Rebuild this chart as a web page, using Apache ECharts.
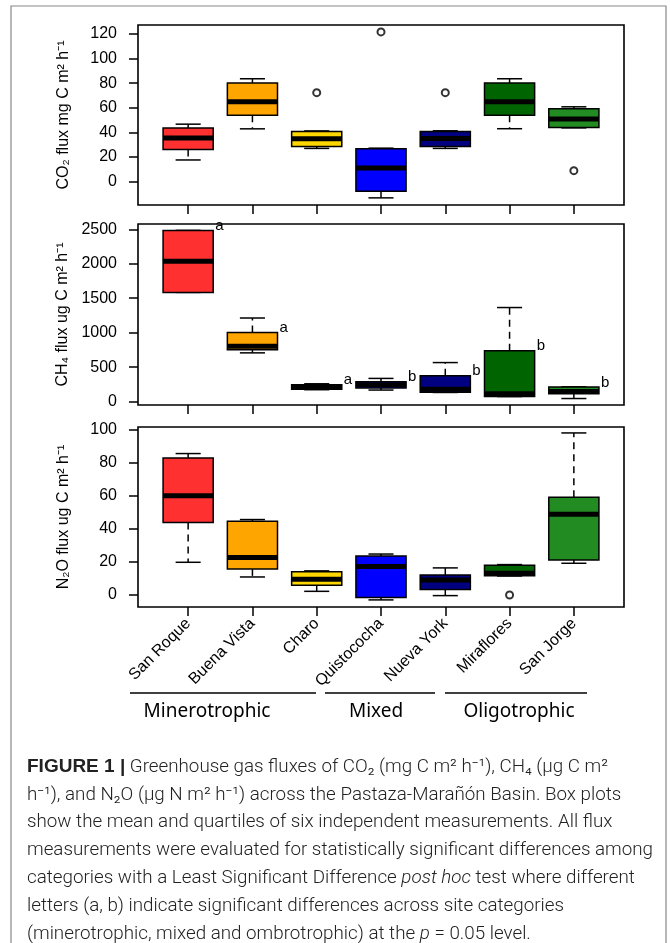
<!DOCTYPE html>
<html>
<head>
<meta charset="utf-8">
<script src="https://cdn.jsdelivr.net/npm/echarts@6/dist/echarts.min.js"></script>
<style>
html,body{margin:0;padding:0;background:#fff;}
#chart{width:670px;height:943px;}
</style>
</head>
<body>
<div id="chart"></div>
<script>
// ---------- data ----------
const categories = ['San Roque','Buena Vista','Charo','Quistococha','Nueva York','Miraflores','San Jorge'];
const boxColors = ['#FF3030','#FFA500','#FFD700','#0000FF','#000080','#006400','#228B22'];

// [min, Q1, median, Q3, max] per category
const co2Stats = [
  [17.6, 26.2, 35.4, 43.5, 46.7],
  [42.9, 54.0, 65.0, 80.2, 83.6],
  [27.0, 28.5, 34.8, 40.7, 41.2],
  [-13.2, -7.9, 11.1, 26.7, 27.2],
  [27.0, 28.5, 35.0, 40.8, 41.3],
  [43.0, 54.0, 65.0, 80.2, 83.6],
  [43.7, 43.9, 50.8, 59.3, 60.8]
];
const co2Outliers = [[3, 72.3], [4, 121.7], [5, 72.3], [7, 8.9]];

const ch4Stats = [
  [1585, 1585, 2038, 2485, 2485],
  [707, 751, 804, 1004, 1213],
  [172, 180, 205, 245, 258],
  [167, 196, 244, 288, 336],
  [132, 135, 180, 376, 566],
  [73, 75, 112, 737, 1365],
  [44, 113, 146, 210, 213]
];
const ch4Letters = ['a','a','a','b','b','b','b'];

const n2oStats = [
  [19.8, 43.9, 60.2, 83.0, 85.7],
  [10.9, 15.8, 22.7, 44.7, 45.7],
  [2.2, 5.9, 9.5, 14.1, 14.6],
  [-3.0, -1.6, 17.2, 23.6, 24.8],
  [-0.4, 3.3, 9.1, 12.1, 16.4],
  [11.5, 11.6, 13.2, 18.0, 18.4],
  [19.2, 21.2, 48.9, 59.2, 98.2]
];
const n2oOutliers = [[6, 0.0]];

const co2Ticks = [0, 20, 40, 60, 80, 100, 120];
const ch4Ticks = [0, 500, 1000, 1500, 2000, 2500];
const n2oTicks = [0, 20, 40, 60, 80, 100];
const xTicks = [1, 2, 3, 4, 5, 6, 7];

const groups = [
  {name: 'Minerotrophic', x1: 130, x2: 316, cx: 207},
  {name: 'Mixed', x1: 325, x2: 435, cx: 376},
  {name: 'Oligotrophic', x1: 445, x2: 587, cx: 519}
];

// ---------- helpers ----------
const FONT = '"Liberation Sans", Arial, Helvetica, sans-serif';
const AX_FONT = 16;
const BOX_HALF = 0.39;

function boxData(stats) {
  return stats.map((s, i) => [i + 1].concat(s));
}

function renderBox(params, api) {
  const x = api.value(0);
  const idx = Math.round(x) - 1;
  const pMin = api.coord([x, api.value(1)]);
  const pQ1 = api.coord([x, api.value(2)]);
  const pMed = api.coord([x, api.value(3)]);
  const pQ3 = api.coord([x, api.value(4)]);
  const pMax = api.coord([x, api.value(5)]);
  const hw = api.size([BOX_HALF, 0])[0];
  const sw = hw * 0.5;
  const cx = pMed[0];
  const children = [];
  const dash = [7, 5];
  if (pMax[1] < pQ3[1] - 0.5) {
    children.push({type: 'line', shape: {x1: cx, y1: pQ3[1], x2: cx, y2: pMax[1]},
      style: {stroke: '#000', lineWidth: 1.5, lineDash: dash}});
  }
  if (pMin[1] > pQ1[1] + 0.5) {
    children.push({type: 'line', shape: {x1: cx, y1: pQ1[1], x2: cx, y2: pMin[1]},
      style: {stroke: '#000', lineWidth: 1.5, lineDash: dash}});
  }
  children.push({type: 'line', shape: {x1: cx - sw, y1: pMax[1], x2: cx + sw, y2: pMax[1]},
    style: {stroke: '#000', lineWidth: 1.5}});
  children.push({type: 'line', shape: {x1: cx - sw, y1: pMin[1], x2: cx + sw, y2: pMin[1]},
    style: {stroke: '#000', lineWidth: 1.5}});
  children.push({type: 'rect', shape: {x: cx - hw, y: pQ3[1], width: 2 * hw, height: pQ1[1] - pQ3[1]},
    style: {fill: boxColors[idx], stroke: '#000', lineWidth: 1.5}});
  children.push({type: 'line', shape: {x1: cx - hw, y1: pMed[1], x2: cx + hw, y2: pMed[1]},
    style: {stroke: '#000', lineWidth: 5}});
  return {type: 'group', children: children};
}

function renderLetter(params, api) {
  const x = api.value(0);
  const p = api.coord([x, api.value(1)]);
  const hw = api.size([BOX_HALF, 0])[0];
  return {
    type: 'text',
    x: p[0] + hw + 2,
    y: p[1] + 3,
    style: {text: ch4Letters[Math.round(x) - 1], fill: '#000', font: '15px ' + FONT,
      align: 'left', verticalAlign: 'bottom'}
  };
}

function makeX(gi, showLabels) {
  return {
    type: 'value', gridIndex: gi, min: 0.22, max: 7.78,
    axisLine: {show: false, onZero: false}, splitLine: {show: false},
    axisTick: {show: true, customValues: xTicks, length: 9, lineStyle: {color: '#000', width: 1.5}},
    axisLabel: {show: showLabels, customValues: xTicks, rotate: 45, margin: 14,
      fontSize: AX_FONT, fontFamily: FONT, color: '#000',
      formatter: v => categories[Math.round(v) - 1]}
  };
}

function makeY(gi, min, max, ticks, name) {
  return {
    type: 'value', gridIndex: gi, min: min, max: max,
    axisLine: {show: false, onZero: false}, splitLine: {show: false},
    axisTick: {show: true, customValues: ticks, length: 9, lineStyle: {color: '#000', width: 1.5}},
    axisLabel: {customValues: ticks, margin: 21, fontSize: AX_FONT, fontFamily: FONT, color: '#000',
      formatter: v => String(v)},
    name: name, nameLocation: 'middle', nameGap: 66,
    nameTextStyle: {fontSize: AX_FONT, fontFamily: FONT, color: '#000'}
  };
}

function outlierSeries(gi, pts) {
  return {
    type: 'scatter', xAxisIndex: gi, yAxisIndex: gi, data: pts,
    symbol: 'circle', symbolSize: 7,
    itemStyle: {color: '#fff', borderColor: '#000', borderWidth: 2},
    silent: true, z: 5
  };
}

const gridBase = {left: 138, width: 486, show: true, borderColor: '#000', borderWidth: 1.6, backgroundColor: 'rgba(0,0,0,0)'};

// caption lines
const captionLines = [
  '{b|FIGURE 1 |} Greenhouse gas fluxes of CO₂ (mg C m² h⁻¹), CH₄ (µg C m²',
  'h⁻¹), and N₂O (µg N m² h⁻¹) across the Pastaza-Marañón Basin. Box plots',
  'show the mean and quartiles of six independent measurements. All flux',
  'measurements were evaluated for statistically significant differences among',
  'categories with a Least Significant Difference {i|post hoc} test where different',
  'letters (a, b) indicate significant differences across site categories',
  '(minerotrophic, mixed and ombrotrophic) at the {i|p} = 0.05 level.'
];
const CAP_FONT = 18.8;
const CAP_FAMILY = 'Roboto, "Liberation Sans", sans-serif';
const graphics = [];
graphics.push({type: 'rect', shape: {x: 11, y: 6, width: 655, height: 960},
  style: {fill: 'none', stroke: '#888', lineWidth: 1.2}, silent: true, z: -1});
groups.forEach(g => {
  graphics.push({type: 'line', shape: {x1: g.x1, y1: 693, x2: g.x2, y2: 693},
    style: {stroke: '#000', lineWidth: 1.5}});
  graphics.push({type: 'text', x: g.cx, y: 712,
    style: {text: g.name, fill: '#000', font: '19px "Noto Sans", sans-serif', align: 'center', verticalAlign: 'middle'}});
});
captionLines.forEach((t, i) => {
  graphics.push({type: 'text', x: 27, y: 767 + i * 27.9,
    style: {text: t, fill: '#222', fontSize: CAP_FONT, fontFamily: CAP_FAMILY, fontWeight: 300,
      align: 'left', verticalAlign: 'middle',
      rich: {
        b: {fontWeight: 'bold', fontSize: 19, fontFamily: FONT, fill: '#222'},
        i: {fontStyle: 'italic', fontWeight: 300, fontSize: CAP_FONT, fontFamily: CAP_FAMILY, fill: '#222'}
      }}});
});

const option = {
  animation: false,
  backgroundColor: '#fff',
  grid: [
    Object.assign({top: 25, height: 180}, gridBase),
    Object.assign({top: 224, height: 181}, gridBase),
    Object.assign({top: 427, height: 180}, gridBase)
  ],
  xAxis: [makeX(0, false), makeX(1, false), makeX(2, true)],
  yAxis: [
    makeY(0, -19, 127.3, co2Ticks, 'CO₂ flux mg C m² h⁻¹'),
    makeY(1, -50, 2578, ch4Ticks, 'CH₄ flux ug C m² h⁻¹'),
    makeY(2, -7.3, 101.8, n2oTicks, 'N₂O flux ug C m² h⁻¹')
  ],
  series: [
    {type: 'custom', xAxisIndex: 0, yAxisIndex: 0, data: boxData(co2Stats), renderItem: renderBox, silent: true},
    outlierSeries(0, co2Outliers),
    {type: 'custom', xAxisIndex: 1, yAxisIndex: 1, data: boxData(ch4Stats), renderItem: renderBox, silent: true},
    {type: 'custom', xAxisIndex: 1, yAxisIndex: 1, data: ch4Stats.map((s, i) => [i + 1, s[3]]), renderItem: renderLetter, silent: true, z: 6},
    {type: 'custom', xAxisIndex: 2, yAxisIndex: 2, data: boxData(n2oStats), renderItem: renderBox, silent: true},
    outlierSeries(2, n2oOutliers)
  ],
  graphic: graphics
};

const chart = echarts.init(document.getElementById('chart'), null, {renderer: 'canvas'});
chart.setOption(option);
</script>
</body>
</html>
